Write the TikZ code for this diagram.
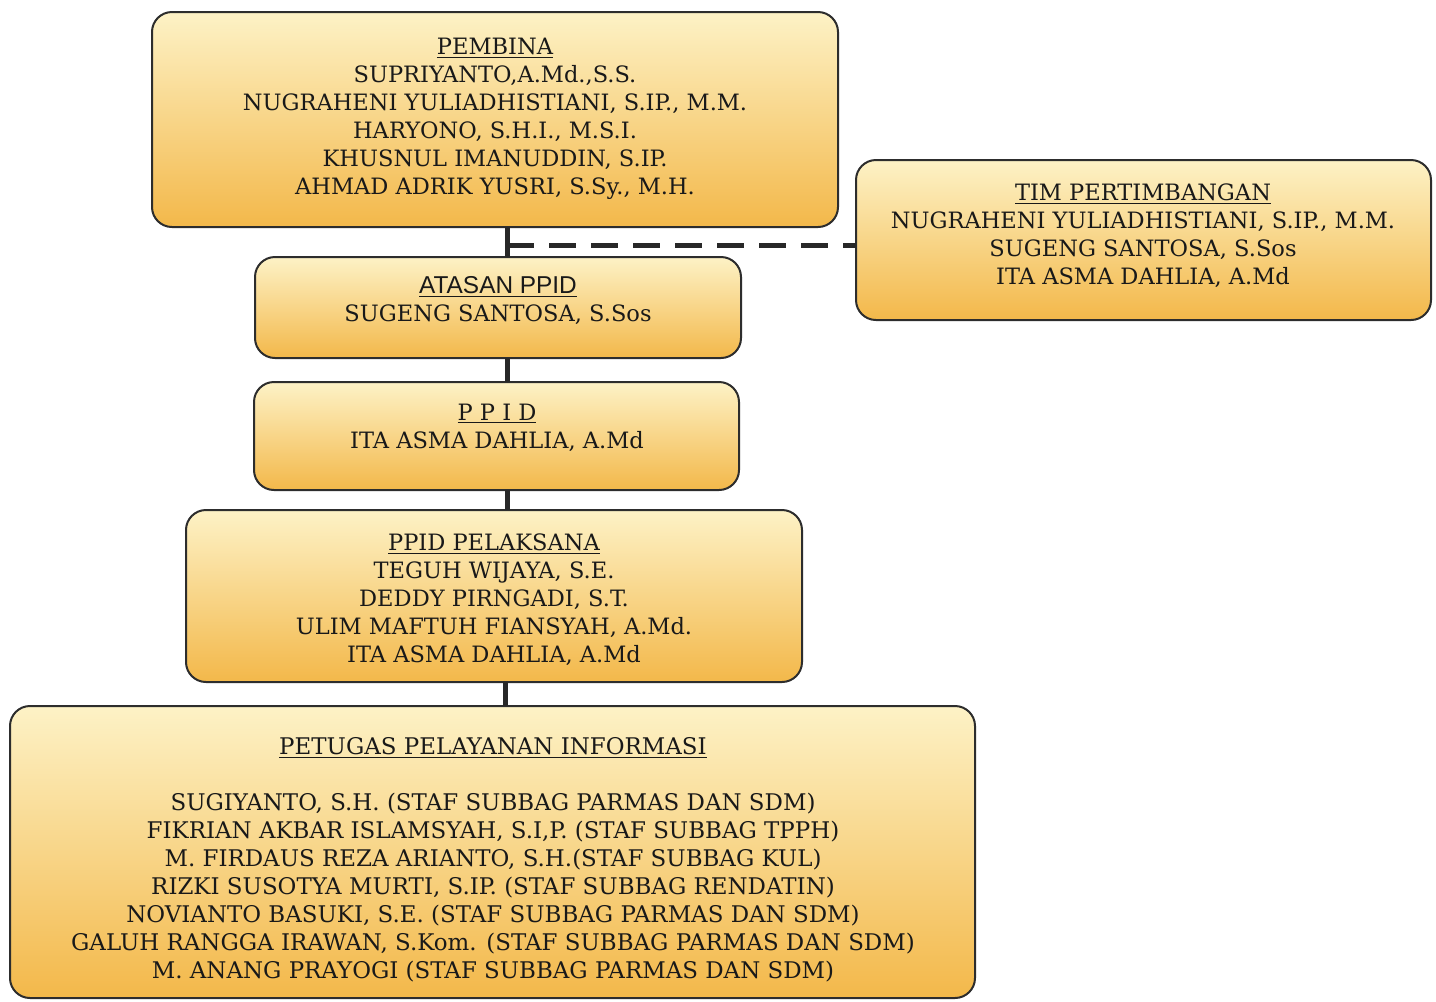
\documentclass[tikz,border=0pt]{standalone}
\usepackage{fontspec}
\setmainfont{DejaVu Serif}
\newfontfamily\sansf{Liberation Sans}
\definecolor{boxtop}{RGB}{253,242,198}
\definecolor{boxbot}{RGB}{243,184,74}
\definecolor{edgec}{RGB}{45,45,45}
\definecolor{linkc}{RGB}{40,40,40}
\begin{document}
\begin{tikzpicture}[x=0.75pt,y=-0.75pt,
  orgbox/.style={draw=edgec, line width=1.5pt, rounded corners=15pt,
    top color=boxtop, bottom color=boxbot, inner sep=0pt, outer sep=0pt},
  orgtext/.style={align=center, inner sep=0pt, text=black!90,
    font=\fontsize{16.9}{21}\selectfont},
  bigtext/.style={align=center, inner sep=0pt, text=black!90,
    font=\fontsize{17.2}{21}\selectfont},
  link/.style={line width=3.75pt, draw=linkc}]
\useasboundingbox (0,0) rectangle (1436,1001);
\fill[white] (0,0) rectangle (1436,1001);

% boxes
\node[orgbox, minimum width=514.5pt, minimum height=161.25pt] (pembina) at (495,119.5) {};
\node[orgbox, minimum width=431.25pt, minimum height=120pt] (tim) at (1143.5,240) {};
\node[orgbox, minimum width=364.5pt, minimum height=75.75pt] (atasan) at (498,307.5) {};
\node[orgbox, minimum width=363.75pt, minimum height=81pt] (ppid) at (496.5,436) {};
\node[orgbox, minimum width=462pt, minimum height=129pt] (pelaksana) at (494,596) {};
\node[orgbox, minimum width=723.75pt, minimum height=219pt] (petugas) at (492.5,852) {};

% texts
\node[orgtext] (tpembina) at (495,119) {\underline{PEMBINA}\\
SUPRIYANTO,A.Md.,S.S.\\
NUGRAHENI YULIADHISTIANI, S.IP., M.M.\\
HARYONO, S.H.I., M.S.I.\\
KHUSNUL IMANUDDIN, S.IP.\\
AHMAD ADRIK YUSRI, S.Sy., M.H.};

\node[orgtext] (ttim) at (1143,236) {\underline{TIM PERTIMBANGAN}\\
NUGRAHENI YULIADHISTIANI, S.IP., M.M.\\
SUGENG SANTOSA, S.Sos\\
ITA ASMA DAHLIA, A.Md};

\node[orgtext] (tatasan) at (498,301) {{\sansf\fontsize{18.3}{21}\selectfont\underline{ATASAN PPID}}\\
SUGENG SANTOSA, S.Sos};

\node[orgtext] (tppid) at (497,428) {\underline{P P I D}\\
ITA ASMA DAHLIA, A.Md};

\node[orgtext] (tpelaksana) at (494,600) {\underline{PPID PELAKSANA}\\
TEGUH WIJAYA, S.E.\\
DEDDY PIRNGADI, S.T.\\
ULIM MAFTUH FIANSYAH, A.Md.\\
ITA ASMA DAHLIA, A.Md};

\node[bigtext] (tpetugas) at (493,860) {\underline{PETUGAS PELAYANAN INFORMASI}\\[21pt]
SUGIYANTO, S.H. (STAF SUBBAG PARMAS DAN SDM)\\
FIKRIAN AKBAR ISLAMSYAH, S.I,P. (STAF SUBBAG TPPH)\\
M. FIRDAUS REZA ARIANTO, S.H.(STAF SUBBAG KUL)\\
RIZKI SUSOTYA MURTI, S.IP. (STAF SUBBAG RENDATIN)\\
NOVIANTO BASUKI, S.E. (STAF SUBBAG PARMAS DAN SDM)\\
GALUH RANGGA IRAWAN, S.Kom. (STAF SUBBAG PARMAS DAN SDM)\\
M. ANANG PRAYOGI (STAF SUBBAG PARMAS DAN SDM)};

% connectors
\coordinate (spine) at (507,0);
\coordinate (spinelow) at (505,0);
\coordinate (dj) at (507,245);
\draw[link] (pembina.south -| spine) -- (atasan.north -| spine);
\draw[link] (atasan.south -| spine) -- (ppid.north -| spine);
\draw[link] (ppid.south -| spine) -- (pelaksana.north -| spine);
\draw[link] (pelaksana.south -| spinelow) -- (petugas.north -| spinelow);
\draw[link, dash pattern=on 20pt off 11.5pt] (dj) -- (dj -| tim.west);
\end{tikzpicture}
\end{document}
